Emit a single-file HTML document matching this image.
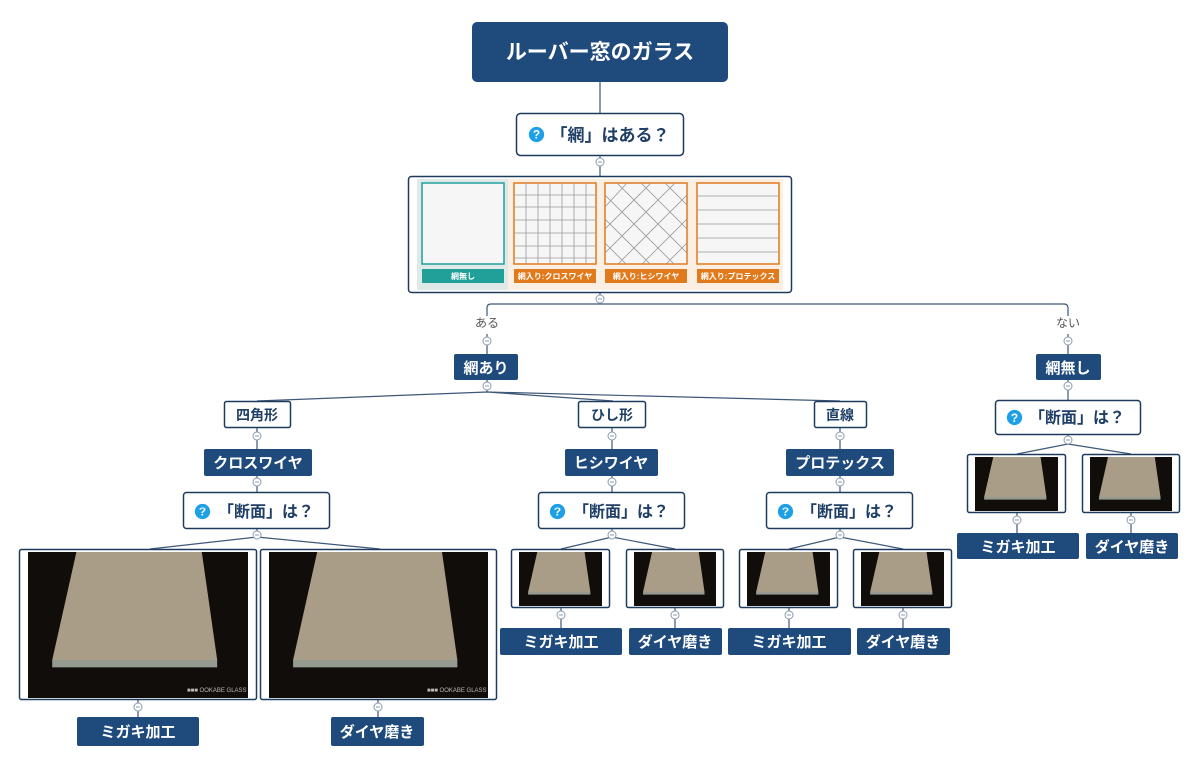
<!DOCTYPE html>
<html><head><meta charset="utf-8"><style>
html,body{margin:0;padding:0;background:#fff;}
svg{display:block;font-family:"Liberation Sans","Noto Sans CJK JP",sans-serif;}
.w{fill:#fff;font-weight:bold;}
.d{fill:#1f3f66;font-weight:bold;}
</style></head><body>
<svg width="1200" height="768" viewBox="0 0 1200 768" xmlns="http://www.w3.org/2000/svg">
<defs>
<symbol id="ph" viewBox="0 0 100 100" preserveAspectRatio="none">
<rect width="100" height="100" fill="#110d0a"/>
<polygon points="22,0 79,0 86,74 11,74" fill="#a99d87"/>
<polygon points="11,74 86,74 86,79 11,79" fill="#949a90"/>
</symbol>
<symbol id="c" viewBox="0 0 10 10"><circle cx="5" cy="5" r="4" fill="#fff" stroke="#8a9bb0" stroke-width="1"/><line x1="3" y1="5" x2="7" y2="5" stroke="#8a9bb0" stroke-width="1"/></symbol>
<symbol id="q" viewBox="0 0 20 20"><circle cx="10" cy="10" r="9" fill="#1ea0e6"/><text x="10" y="15" text-anchor="middle" font-size="14" font-weight="bold" fill="#fff" font-family="Liberation Sans,sans-serif">?</text></symbol>
</defs>
<g stroke="#3d5878" stroke-width="1.2" fill="none">
<line x1="600" y1="82" x2="600" y2="113"/>
<line x1="600" y1="156" x2="600" y2="176"/>
<polyline points="600,293 600,304"/>
<path d="M487,316 V308 Q487,304 491,304 H1064 Q1068,304 1068,308 V316"/>
<line x1="487" y1="334" x2="487" y2="354"/>
<line x1="1068" y1="334" x2="1068" y2="354"/>
<line x1="487" y1="380" x2="487" y2="392"/>
<path d="M257,401 L487,392 L613,401 M487,392 L840,401"/>
<line x1="257" y1="428" x2="257" y2="449"/><line x1="257" y1="476" x2="257" y2="492"/>
<line x1="612" y1="428" x2="612" y2="449"/><line x1="612" y1="476" x2="612" y2="492"/>
<line x1="840" y1="428" x2="840" y2="449"/><line x1="840" y1="476" x2="840" y2="492"/>
<line x1="1068" y1="380" x2="1068" y2="400"/>
<path d="M257,529 V537 M150,549 L257,537 L380,549"/>
<path d="M612,529 V537 M561,549 L612,537 L675,549"/>
<path d="M840,529 V537 M789,549 L840,537 L903,549"/>
<path d="M1068,434 V444 M1017,454 L1068,444 L1131,454"/>
<line x1="138" y1="700" x2="138" y2="717"/><line x1="378" y1="700" x2="378" y2="717"/>
<line x1="561" y1="608" x2="561" y2="628"/><line x1="675" y1="608" x2="675" y2="628"/>
<line x1="789" y1="608" x2="789" y2="628"/><line x1="903" y1="608" x2="903" y2="628"/>
<line x1="1017" y1="513" x2="1017" y2="533"/><line x1="1131" y1="513" x2="1131" y2="533"/>
</g>
<!-- root -->
<rect x="472" y="22" width="256" height="60" rx="5" fill="#1f4a7c"/>
<text x="600" y="59" text-anchor="middle" font-size="21" class="w">ルーバー窓のガラス</text>
<!-- Q1 -->
<rect x="516.5" y="113.5" width="167" height="42" rx="4" fill="#fff" stroke="#1f3a5f" stroke-width="1.5"/>
<use href="#q" x="528" y="126" width="17" height="17"/>
<text x="610" y="141" text-anchor="middle" font-size="17" class="d">「網」はある？</text>
<!-- image box -->
<rect x="408.5" y="176.5" width="383" height="116" rx="3" fill="#fff" stroke="#1f3a5f" stroke-width="1.5"/>
<rect x="417" y="179" width="91" height="111" fill="#dfe9e8"/>
<rect x="508" y="179" width="275" height="111" fill="#fbeee2"/>
<rect x="422" y="183" width="82" height="81" fill="#f6f6f6" stroke="#21a09a" stroke-width="1.5"/>
<rect x="514" y="183" width="82" height="81" fill="#f6f6f6" stroke="#e07a1c" stroke-width="1.5"/>
<rect x="605" y="183" width="82" height="81" fill="#f6f6f6" stroke="#e07a1c" stroke-width="1.5"/>
<rect x="697" y="183" width="82" height="81" fill="#f6f6f6" stroke="#e07a1c" stroke-width="1.5"/>
<g stroke="#999" stroke-width="0.8">
<path d="M526,183V264M538,183V264M550,183V264M562,183V264M574,183V264M586,183V264M514,195H596M514,207H596M514,220H596M514,233H596M514,246H596M514,258H596"/>
<path d="M697,196H779M697,210H779M697,224H779M697,238H779M697,252H779"/>
</g>
<clipPath id="dc"><rect x="605" y="183" width="82" height="81"/></clipPath>
<g clip-path="url(#dc)" stroke="#999" stroke-width="0.8">
<path d="M605,195L674,264M605,219L650,264M605,243L626,264M617,183L687,253M641,183L687,229M665,183L687,205M687,195L618,264M687,219L642,264M687,243L666,264M675,183L605,253M651,183L605,229M627,183L605,207"/>
</g>
<rect x="422" y="269" width="82" height="14" fill="#21a09a"/>
<rect x="514" y="269" width="82" height="14" fill="#e07a1c"/>
<rect x="605" y="269" width="82" height="14" fill="#e07a1c"/>
<rect x="697" y="269" width="82" height="14" fill="#e07a1c"/>
<g font-size="8" class="w" text-anchor="middle">
<text x="463" y="279">網無し</text><text x="555" y="279">網入り:クロスワイヤ</text><text x="646" y="279">網入り:ヒシワイヤ</text><text x="738" y="279">網入り:プロテックス</text>
</g>
<text x="487" y="327" text-anchor="middle" font-size="12" fill="#555">ある</text>
<text x="1068" y="327" text-anchor="middle" font-size="12" fill="#555">ない</text>
<!-- dark labels -->
<g fill="#1f4a7c">
<rect x="454" y="354" width="64" height="26" rx="2"/>
<rect x="1036" y="354" width="65" height="26" rx="2"/>
<rect x="204" y="449" width="108" height="27" rx="2"/>
<rect x="565" y="449" width="93" height="27" rx="2"/>
<rect x="786" y="449" width="108" height="27" rx="2"/>
<rect x="77" y="717" width="122" height="29" rx="2"/>
<rect x="331" y="717" width="93" height="29" rx="2"/>
<rect x="500" y="628" width="122" height="27" rx="2"/>
<rect x="629" y="628" width="93" height="27" rx="2"/>
<rect x="728" y="628" width="123" height="27" rx="2"/>
<rect x="857" y="628" width="93" height="27" rx="2"/>
<rect x="957" y="533" width="122" height="26" rx="2"/>
<rect x="1086" y="533" width="92" height="26" rx="2"/>
</g>
<g font-size="15" class="w" text-anchor="middle">
<text x="486" y="373">網あり</text><text x="1068" y="373">網無し</text>
<text x="258" y="468">クロスワイヤ</text><text x="611" y="468">ヒシワイヤ</text><text x="840" y="468">プロテックス</text>
<text x="138" y="737">ミガキ加工</text><text x="377" y="737">ダイヤ磨き</text>
<text x="561" y="647">ミガキ加工</text><text x="675" y="647">ダイヤ磨き</text>
<text x="789" y="647">ミガキ加工</text><text x="903" y="647">ダイヤ磨き</text>
<text x="1018" y="552">ミガキ加工</text><text x="1132" y="552">ダイヤ磨き</text>
</g>
<!-- white boxes -->
<g fill="#fff" stroke="#1f3a5f" stroke-width="1.5">
<rect x="224.5" y="401.5" width="66" height="26" rx="2"/>
<rect x="578.5" y="401.5" width="67" height="26" rx="2"/>
<rect x="814.5" y="401.5" width="52" height="26" rx="2"/>
<rect x="183.5" y="492.5" width="146" height="36" rx="3"/>
<rect x="538.5" y="492.5" width="146" height="36" rx="3"/>
<rect x="766.5" y="492.5" width="146" height="36" rx="3"/>
<rect x="995.5" y="400.5" width="145" height="34" rx="3"/>
</g>
<g font-size="14" class="d" text-anchor="middle">
<text x="257" y="420">四角形</text><text x="612" y="420">ひし形</text><text x="840" y="420">直線</text>
</g>
<g font-size="16" class="d" text-anchor="middle">
<text x="266" y="517">「断面」は？</text><text x="621" y="517">「断面」は？</text><text x="849" y="517">「断面」は？</text><text x="1077" y="423">「断面」は？</text>
</g>
<use href="#q" x="194" y="503" width="17" height="17"/>
<use href="#q" x="549" y="503" width="17" height="17"/>
<use href="#q" x="777" y="503" width="17" height="17"/>
<use href="#q" x="1006" y="409" width="17" height="17"/>
<!-- photos -->
<g fill="#fff" stroke="#1f3a5f" stroke-width="1.5">
<rect x="19.5" y="549.5" width="237" height="150" rx="2"/>
<rect x="260.5" y="549.5" width="236" height="150" rx="2"/>
<rect x="511.5" y="549.5" width="98" height="58" rx="2"/>
<rect x="626.5" y="549.5" width="97" height="58" rx="2"/>
<rect x="739.5" y="549.5" width="98" height="58" rx="2"/>
<rect x="853.5" y="549.5" width="98" height="58" rx="2"/>
<rect x="967.5" y="454.5" width="98" height="58" rx="2"/>
<rect x="1082.5" y="454.5" width="97" height="58" rx="2"/>
</g>
<use href="#ph" x="28" y="552" width="220" height="146"/>
<use href="#ph" x="269" y="552" width="219" height="146"/>
<use href="#ph" x="519" y="552" width="83" height="54"/>
<use href="#ph" x="634" y="552" width="82" height="54"/>
<use href="#ph" x="747" y="552" width="83" height="54"/>
<use href="#ph" x="861" y="552" width="83" height="54"/>
<use href="#ph" x="975" y="457" width="83" height="54"/>
<use href="#ph" x="1090" y="457" width="82" height="54"/>
<g font-size="6" fill="#bbb"><text x="187" y="692">■■■ OOKABE GLASS</text><text x="427" y="692">■■■ OOKABE GLASS</text></g>
<!-- collapse circles -->
<use href="#c" x="595" y="157" width="10" height="10"/>
<use href="#c" x="595" y="294" width="10" height="10"/>
<use href="#c" x="482" y="336" width="10" height="10"/>
<use href="#c" x="1063" y="336" width="10" height="10"/>
<use href="#c" x="482" y="381" width="10" height="10"/>
<use href="#c" x="1063" y="381" width="10" height="10"/>
<use href="#c" x="252" y="431" width="10" height="10"/>
<use href="#c" x="607" y="431" width="10" height="10"/>
<use href="#c" x="835" y="431" width="10" height="10"/>
<use href="#c" x="252" y="477" width="10" height="10"/>
<use href="#c" x="607" y="477" width="10" height="10"/>
<use href="#c" x="835" y="477" width="10" height="10"/>
<use href="#c" x="252" y="530" width="10" height="10"/>
<use href="#c" x="607" y="530" width="10" height="10"/>
<use href="#c" x="835" y="530" width="10" height="10"/>
<use href="#c" x="1063" y="435" width="10" height="10"/>
<use href="#c" x="133" y="702" width="10" height="10"/>
<use href="#c" x="373" y="702" width="10" height="10"/>
<use href="#c" x="556" y="610" width="10" height="10"/>
<use href="#c" x="670" y="610" width="10" height="10"/>
<use href="#c" x="784" y="610" width="10" height="10"/>
<use href="#c" x="898" y="610" width="10" height="10"/>
<use href="#c" x="1012" y="515" width="10" height="10"/>
<use href="#c" x="1126" y="515" width="10" height="10"/>
</svg>
</body></html>
